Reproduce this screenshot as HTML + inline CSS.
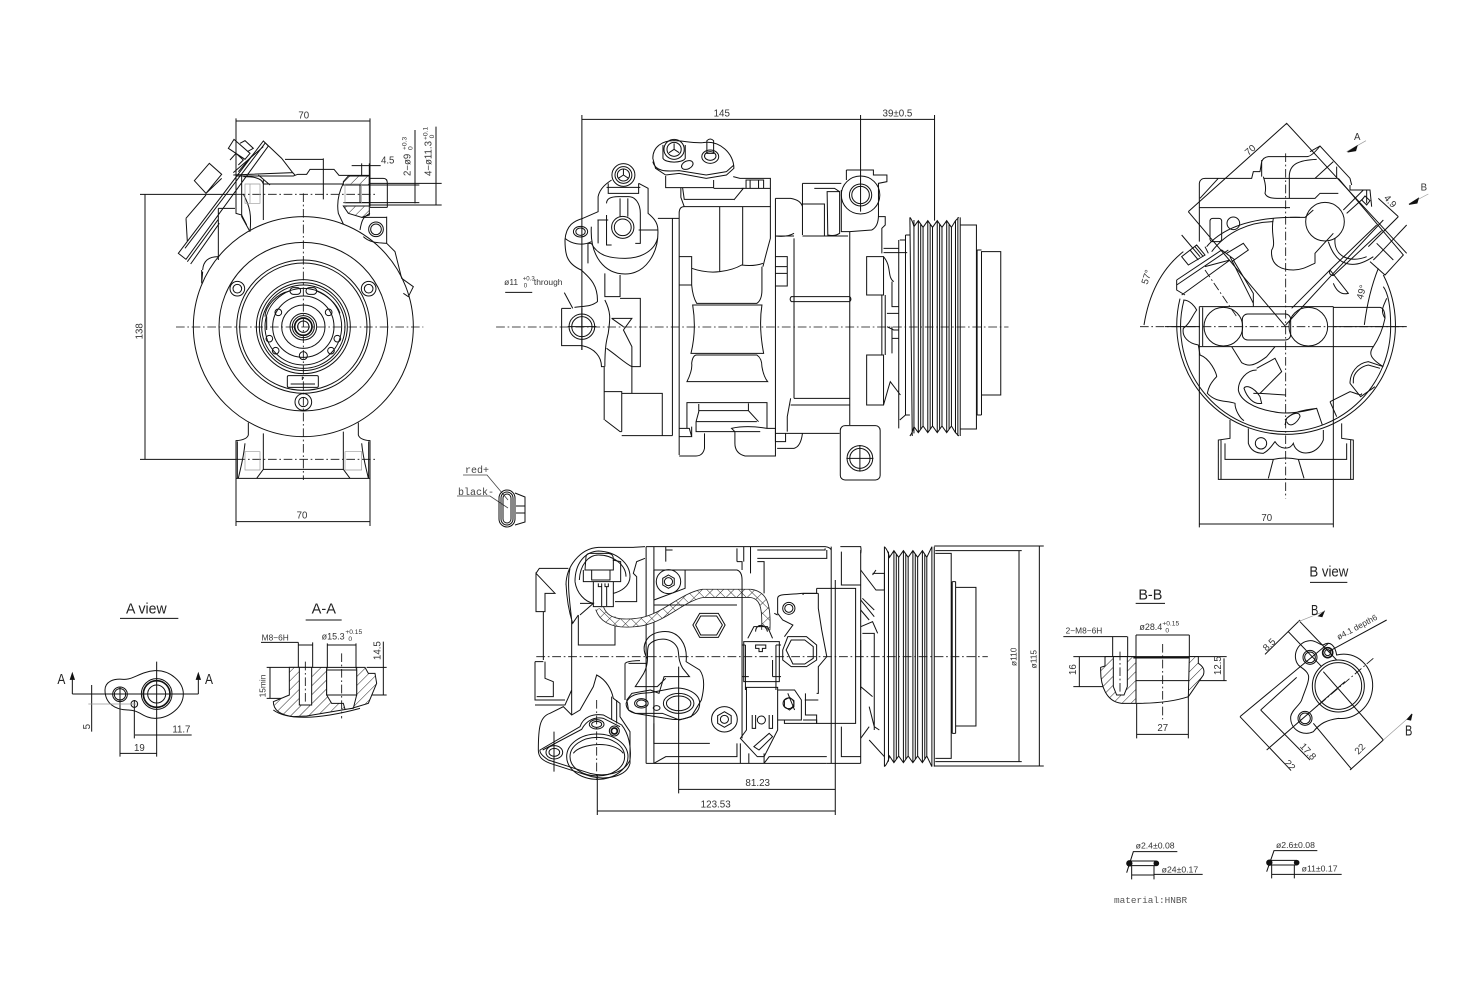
<!DOCTYPE html>
<html><head><meta charset="utf-8"><style>
html,body{margin:0;padding:0;background:#fff;width:1481px;height:1000px;overflow:hidden}
svg{display:block}
g.z path,g.z circle,g.z ellipse,g.z rect{fill:none;stroke:#111;stroke-width:3}
g.z .c{stroke-dasharray:26 8 5 8;stroke-width:2.6}
g.z .g{stroke:#999;stroke-width:2}
g.z .h{fill:url(#h)}
g.z .k{fill:#111}
g.z .w{stroke-width:5}
text{font-family:"Liberation Sans",sans-serif;fill:#333;font-size:29px;stroke:none}
text.s{font-size:20px}
text.ti{font-size:44px;fill:#222}
</style></head><body>
<svg width="1481" height="1000" viewBox="0 0 1481 1000" xmlns="http://www.w3.org/2000/svg">
<defs>
<pattern id="h" patternUnits="userSpaceOnUse" width="19" height="19" patternTransform="rotate(-45)"><rect width="19" height="19" fill="#fff"/><line x1="0" y1="0" x2="19" y2="0" stroke="#222" stroke-width="3"/></pattern>
<pattern id="x" patternUnits="userSpaceOnUse" width="22" height="22" patternTransform="rotate(45)"><rect width="22" height="22" fill="#fff"/><path d="M0,0H22M0,0V22" stroke="#333" stroke-width="3" fill="none"/></pattern>
</defs>

<!-- VIEW 1 -->
<g class="z" transform="translate(130 100) scale(.33333)">
<path d="M318,55V235M720,55V320M318,63H720"/><text x="505" y="55">70</text>
<path d="M318,1135V1278M720,1135V1278M318,1265H720"/><text x="500" y="1256">70</text>
<path d="M30,283H320M30,1078H320M45,283V1078"/><path class="c" d="M320,283H740M320,1078H740"/>
<text transform="translate(37,718) rotate(-90)">138</text>
<path d="M665,197H752M695,190V230M718,190V230M690,255H868M690,308H868M855,90V310M720,250H935M720,315H935M918,80V315"/>
<text x="753" y="190">4.5</text>
<text transform="translate(841,228) rotate(-90)">2−ø9</text><text class="s" transform="translate(830,150) rotate(-90)">+0.3</text><text class="s" transform="translate(848,150) rotate(-90)">0</text>
<text transform="translate(905,228) rotate(-90)">4−ø11.3</text><text class="s" transform="translate(892,120) rotate(-90)">+0.1</text><text class="s" transform="translate(912,115) rotate(-90)">0</text>
<circle cx="520" cy="680" r="330"/><circle cx="520" cy="680" r="253"/><circle cx="520" cy="680" r="200"/><circle cx="520" cy="680" r="191"/><circle cx="520" cy="680" r="141"/><circle cx="520" cy="680" r="132"/><circle cx="520" cy="680" r="125"/><circle cx="520" cy="680" r="115"/><circle cx="520" cy="680" r="92"/><circle cx="520" cy="680" r="65"/><circle cx="520" cy="680" r="40"/><circle cx="520" cy="680" r="33"/><circle cx="520" cy="680" r="26" class="w"/><circle cx="520" cy="680" r="17"/>
<circle cx="322" cy="566" r="22"/><circle cx="322" cy="566" r="13"/><circle cx="716" cy="566" r="22"/><circle cx="716" cy="566" r="13"/><circle cx="520" cy="906" r="25"/><circle cx="520" cy="906" r="14"/>
<circle cx="445" cy="637" r="10"/><circle cx="596" cy="637" r="10"/><circle cx="418" cy="716" r="10"/><circle cx="622" cy="716" r="10"/><circle cx="437" cy="752" r="10"/><circle cx="603" cy="752" r="10"/><circle cx="520" cy="767" r="12"/>
<rect x="480" y="563" width="32" height="20" rx="10"/><rect x="528" y="563" width="32" height="20" rx="10"/>
<path d="M405,650C405,620 440,580 480,573M630,640C620,610 590,585 560,573M410,690V650"/>
<rect x="472" y="827" width="93" height="35" rx="4"/><path d="M482,852H555M517,830V840"/>
<path class="c" d="M138,681H880M520,280V1140"/>
<!-- housing -->
<path d="M318,228H490L503,223H530L540,208H612L627,226H720M400,252H640M580,175V298M465,178H580M400,240V360M340,230C360,230 395,230 400,252M640,250C625,280 620,310 625,340L640,372M340,282C360,320 365,345 360,395M318,228V340L335,345L350,375"/>
<path class="h" d="M640,245L655,228H718V255H640ZM640,318H718V345L695,352L655,340Z"/>
<path d="M718,228V320M690,255V310M640,308H720M720,235H760Q772,235 772,250V322M720,322H772"/>
<circle cx="738" cy="388" r="22"/><circle cx="738" cy="388" r="16"/>
<path d="M695,352H770M690,390C695,360 700,350 720,340M770,350V430L795,455L815,535L850,560L835,590L820,580M700,410C720,430 750,428 770,430"/>
<!-- left connector -->
<path d="M145,460L400,123L415,138L168,478ZM165,445L405,130M172,485L265,358M182,492L268,370M193,242L238,190L275,223L228,280ZM228,280L275,235M168,355L228,285M168,355L172,425M310,225L488,218L455,175L400,123M310,218L400,140M265,325V480M265,325H315M335,225V350L360,395"/>
<path d="M295,145L312,118L360,160L345,178ZM330,130L345,122L370,145L352,155M300,180L318,160L340,180L325,195M325,215L368,165"/>
<path d="M488,218L495,225M385,225L420,255M218,510C220,480 240,470 265,470M215,510V550L218,515"/>
<path class="g" d="M345,252H390V310H345ZM360,252V310M645,252H695V310H645Z"/>
<!-- feet -->
<path d="M355,968V1005Q350,1020 318,1022V1135H720V1022Q690,1020 685,1005V968M400,1000V1110M640,995V1110M345,1030C340,1080 330,1110 325,1135M695,1030C700,1080 710,1110 715,1135M380,1135L400,1108H640L660,1135M322,1024V1135M716,1024V1135"/>
<path class="g" d="M345,1055H390V1110H345ZM645,1055H695V1110H645Z"/>
</g>

<!-- VIEW 2 -->
<g class="z" transform="translate(490 100) scale(.3378 .33333)">
<path d="M272,45V750M1097,45V335M1316,45V362M272,58H1316"/><text x="662" y="49">145</text><text x="1162" y="49">39±0.5</text>
<path d="M45,577H125M220,578L245,625"/><text x="42" y="555" style="font-size:25px">ø11</text><text class="s" x="97" y="542" style="font-size:18px">+0.3</text><text class="s" x="100" y="562" style="font-size:18px">0</text><text x="130" y="555" style="font-size:25px">through</text>
<path d="M482,175C482,140 510,122 545,122C570,122 600,130 630,128C680,120 722,160 722,205L700,225L640,235L560,220L520,225L490,205ZM482,185C490,215 520,215 560,212L640,225L700,215L722,195"/>
<path d="M512,135V175C520,190 570,190 578,175V135"/><circle cx="545" cy="148" r="30"/><circle cx="545" cy="148" r="21"/><path d="M545,148V130M545,148L530,158M545,148L560,158"/>
<ellipse cx="584" cy="195" rx="18" ry="12" transform="rotate(-25 584 195)"/>
<path d="M642,122Q652,112 662,122V160H642Z"/><ellipse cx="652" cy="170" rx="25" ry="20"/><ellipse cx="652" cy="168" rx="17" ry="13"/>
<path d="M520,228V263H662V240M662,265H750L722,300M570,262L575,298H722M565,262V292L575,320M720,230L740,235H830V320M725,265L750,265"/>
<path d="M758,240H810V265H758ZM770,240V265M795,240V265M745,265H830"/>
<!-- body -->
<path d="M560,340Q560,320 575,320H830V415Q815,470 808,500M540,355V1007M560,335V1065M497,355H560M680,320V515M748,320V495M560,470H597V555M597,505Q640,520 680,515Q720,510 745,495Q780,500 808,490M560,555H597Q600,590 612,610H790Q805,600 805,570V500"/>
<path d="M600,615H805Q795,680 810,760H595Q612,690 600,615ZM612,765H790Q805,775 805,800Q810,830 822,845H583Q600,810 597,790Q600,765 612,765Z"/>
<path d="M583,985V908H820V985M618,912V935L610,965V995H800M618,932H765L795,965M765,910V932M610,965H790M560,985H590L597,1010H560M597,980V1010M635,1000V1045Q630,1068 610,1068H560M715,985Q760,975 820,985H845V1068H755Q725,1060 725,1030V995ZM845,1000H875M845,1025H875V1000M875,1000H1035M850,1045H900Q920,1040 925,1000"/>
<path d="M845,295H890Q920,300 925,320M845,295V1025M925,250V405M925,250H1040M960,265H1020L1035,275M925,312H990V408M925,408H1060M998,275H1035V400Q1020,410 1000,405ZM900,415V895M845,408H900M845,470H880V558H845M845,500H880M845,520H880M1065,395V975M892,590H1065Q1072,597 1065,605H892Q885,597 892,590ZM900,895H1065M890,915H1065M890,895L880,950V995M845,408Q880,412 900,400"/>
<path d="M1055,210H1135V225H1175V245L1150,250V345Q1150,380 1130,390L1065,395M1055,210V240M1040,270V395H1065"/>
<circle cx="1097" cy="285" r="57"/><circle cx="1097" cy="285" r="33"/><circle cx="1097" cy="285" r="26"/>
<rect x="1037" y="977" width="118" height="163" rx="14"/><circle cx="1095" cy="1075" r="38"/><circle cx="1095" cy="1075" r="30"/><path d="M1095,1035V1115M1055,1075H1135"/>
<path d="M1150,350H1170V375L1160,385V460M1165,445H1210M1165,458H1235M1115,470H1165V585H1115ZM1115,765H1165V915H1115ZM1160,585V765M1170,585V765M1190,545V620H1210M1190,680V760M1210,420V985M1165,470C1190,500 1175,530 1195,545M1165,915C1175,880 1180,860 1185,845L1215,885M1175,640H1210M1175,680L1195,690H1210M1190,715H1210"/>
<!-- pulley -->
<path d="M1243,352L1250,1008M1255,360V1000M1243,352Q1250,360 1255,380L1268,362L1282,382L1296,362L1310,382L1324,362L1338,382L1352,362L1366,382L1378,362L1388,352M1243,1008Q1250,1000 1255,980L1268,998L1282,978L1296,998L1310,978L1324,998L1338,978L1352,998L1366,978L1378,998L1388,1008M1268,362V998M1275,372V988M1282,382V978M1296,362V998M1303,372V988M1310,382V978M1324,362V998M1331,372V988M1338,382V978M1352,362V998M1359,372V988M1366,382V978M1378,362V998M1392,352V1008M1385,352V1008M1230,405V945H1243M1230,405H1243M1213,420H1230M1213,960L1230,945"/>
<path d="M1392,375H1440V987H1392M1442,450V945M1455,455H1512V885H1455ZM1455,455V945M1442,450H1455M1442,945H1455M1440,760V880"/>
<!-- left -->
<path d="M212,625V737H272M212,625H240"/><circle cx="272" cy="680" r="38"/><circle cx="272" cy="680" r="30"/>
<path d="M272,625V750M230,680H315M222,420C225,375 250,362 275,355L320,335V290C325,265 345,250 360,240M222,420C222,460 225,490 270,510C290,530 320,550 318,605C300,620 280,618 250,622"/>
<ellipse cx="268" cy="395" rx="21" ry="16"/><ellipse cx="268" cy="395" rx="14" ry="11"/>
<path d="M222,415C240,430 270,440 300,425M300,430H290V490"/>
<circle cx="395" cy="225" r="34"/><circle cx="395" cy="225" r="25"/><circle cx="395" cy="225" r="18"/><path d="M395,225V208M395,225L380,235M395,225L410,235M350,250V280H440V250M345,262H445"/>
<ellipse cx="393" cy="382" rx="33" ry="33"/><ellipse cx="393" cy="382" rx="25" ry="25"/>
<path d="M300,380C295,470 340,522 400,522C460,522 500,460 497,390C497,365 480,350 468,340V265L440,250M300,430C320,470 360,475 400,475C450,475 490,450 497,410M345,345V435H360M345,310C345,295 360,290 380,290H410C430,290 445,310 445,340V430H430M385,295V350M408,295V350M320,360V430M318,360H350M440,390H497"/>
<path d="M340,520V590H385V525M385,595H445V800H420V880M340,600C360,640 355,660 350,700C345,720 340,740 340,800M360,655H420L395,690L420,740V800M360,655L395,680M345,745C380,770 400,790 420,800M272,737C310,745 330,770 330,800H338V960M338,875H390V995M390,880H510V1007H390M340,960L385,995H390M510,1007H540"/>
<path class="c" d="M18,681H1535"/>
</g>

<!-- VIEW 3 -->
<g class="z" transform="translate(1120 110) scale(.33333)">
<path d="M238,590V1252M640,590V1252M238,1242H640"/><text x="424" y="1233">70</text>
<path d="M205,305L500,40L860,430M205,305L497,650M497,645L640,490L790,330M775,265L835,320M860,345L780,430M835,320L745,410"/>
<text transform="translate(385,138) rotate(-42)">70</text><text transform="translate(790,265) rotate(48)">4.9</text>
<path d="M72,645Q95,500 190,425M185,375L240,440M733,645Q745,550 775,475"/>
<text transform="translate(82,525) rotate(-72)">57°</text><text transform="translate(728,570) rotate(-75)">49°</text>
<!-- arrows -->
<path class="g" d="M680,125L738,92M868,282L925,252"/><path class="k" d="M683,126L711,108L707,122ZM867,283L895,265L891,279Z"/>
<text x="702" y="90">A</text><text x="902" y="242">B</text>
<!-- housing -->
<path d="M238,293V220Q240,205 255,205H395L400,185H420L425,155Q430,142 445,140H560Q575,140 600,108L690,205L695,225M238,293H510M238,293V395M430,200Q440,230 435,250C440,265 460,265 480,265H585L600,250H655M425,150V200M508,205V265M430,205H650M508,205C505,160 540,150 590,148M570,125L600,108M585,205L640,155M650,170V205M295,205L240,265M655,205L850,435L795,495L750,455M690,225V240H740V280M690,240H750L755,290"/>
<circle cx="615" cy="335" r="58"/>
<path d="M510,322L555,322L580,300M670,300L730,240M680,310L730,265"/>
<path d="M725,270L735,258L750,272L740,285ZM640,370L585,430V460M625,395C650,470 700,480 760,440M645,385C640,440 690,460 740,440M630,480L770,345M640,497L785,362M630,480Q625,495 640,497M515,595L630,480L685,550C665,555 650,545 640,520M770,400L820,450M780,430L760,450"/>
<path d="M460,325C450,370 470,400 455,420C450,470 490,480 520,480C550,480 570,465 585,460"/>
<path d="M260,410C310,350 400,320 540,322M275,425C320,365 390,335 460,335"/>
<rect x="270" y="325" width="35" height="70" rx="8"/><circle cx="340" cy="340" r="19"/>
<!-- left connector -->
<path d="M170,510L305,420L345,450M170,525L325,420M185,555L330,450M170,510V540L195,555M320,430L370,400L385,420L335,455M185,440L230,405L255,435L205,465ZM210,420L235,450M225,410L250,440M255,410L265,430M330,440L400,580M340,450L400,550V590M255,470L330,450"/>
<path class="c" d="M255,480L350,620"/>
<!-- circle -->
<path d="M180,566A328,328 0 1 0 790,495M192,570A315,315 0 0 0 497,965A315,315 0 0 0 812,650Q812,560 790,530M800,565C790,590 780,600 795,625"/>
<path d="M190,570C210,570 225,590 230,600C215,620 210,640 190,655C185,680 205,700 235,705L240,735C270,745 290,790 290,800C270,820 265,835 262,850C290,880 320,870 345,880C345,900 360,925 372,932"/>
<path d="M238,590H640M238,710H640M248,592V708"/>
<circle cx="310" cy="650" r="58"/><circle cx="565" cy="650" r="58"/><rect x="367" y="612" width="145" height="78" rx="16"/>
<path d="M640,592H780Q795,595 795,625C790,650 780,680 760,710H640M335,710L365,758C385,770 400,770 440,740L465,710M410,775L465,745L485,785L420,850L400,850"/>
<path d="M410,780C380,780 355,810 355,840C360,870 400,895 460,905C500,915 550,905 590,895M372,835C375,825 400,828 420,860L425,880C400,885 380,860 372,835ZM420,850L497,855M495,945L500,925C520,905 550,900 590,895L607,945M500,935C510,955 530,940 540,920C540,905 520,905 495,930"/>
<path d="M630,875L650,920M630,875L690,845C710,850 725,860 725,850M690,820C690,790 710,760 745,755L790,770M700,820V810C700,790 720,770 745,765L780,775M690,820L722,860L765,830M760,710C745,730 750,745 790,770"/>
<!-- feet -->
<path d="M330,930V985L295,990V1108H700V990L665,985V940M385,955V1000Q395,1030 430,1030C450,1020 460,1000 465,995C480,1020 510,1020 520,1000C530,1040 590,1040 610,990V960M315,1000V1048H460L445,1105M535,1048H680V1000M460,1048Q495,1040 535,1048L552,1105M303,990V1108M692,990V1108"/>
<circle cx="423" cy="1000" r="17"/>
<path class="c" d="M60,650H860M497,130V1165"/>
<path d="M135,650H240M640,650H860"/>
</g>

<!-- connector -->
<g class="z" transform="translate(450 455)">
<path d="M13,20H37L58,45M7,41H40L58,53" style="stroke-width:.8;stroke:#444"/>
<rect x="49" y="35" width="16" height="37" rx="8" style="stroke-width:1"/><rect x="51" y="37" width="12" height="33" rx="6" style="stroke-width:1"/><rect x="53" y="39" width="8" height="29" rx="4" style="stroke-width:1"/>
<path d="M65,38L75,42V67L65,70M66,51H75M66,58H75" style="stroke-width:1"/>
<text x="15" y="18" style="font-family:'Liberation Mono',monospace;font-size:10px;fill:#444">red+</text>
<text x="8" y="40" style="font-family:'Liberation Mono',monospace;font-size:10px;fill:#444">black-</text>
</g>

<!-- bottom view: left end -->
<g class="z" transform="translate(530 540) scale(.33333)">
<path d="M18,100L75,160H45V215H18ZM18,100L28,85H115M40,215V360M15,365H40M15,365V480H105M45,365V415L70,425V470H20M15,495H105L125,450M125,240V525M145,225V315H255V230"/>
<path d="M108,135C108,80 150,25 205,22H310L345,20M108,130C110,180 120,225 128,250L145,225M120,85C110,130 120,190 125,240M150,225L190,190H150"/>
<path d="M135,125C135,70 165,35 205,33C260,35 300,70 300,110C300,140 270,155 250,160M135,125C140,160 165,185 190,190M148,120C150,75 175,45 205,45C250,45 288,75 288,110"/>
<path d="M168,50Q170,40 180,40H235Q250,42 250,55V90H165ZM160,90V125H272V65L248,60M185,90V120H240V90M190,125V200H250V125M205,130V140H215V130M225,130V140H235V130M215,140V198M230,140V198"/>
<path d="M345,55L320,65L310,100L320,110V185H255M285,370Q295,362 330,362M285,370V480"/>
<path d="M25,630C25,560 30,530 60,520L100,500L125,525L150,510L190,440L200,405C230,420 245,450 250,475L270,490V530L300,575V670C290,710 230,720 185,710L60,670C35,660 25,650 25,630Z"/>
<path d="M30,630L150,560C160,530 190,520 220,525L275,555C295,580 305,620 300,660C280,705 220,710 180,700L55,660C40,650 28,640 30,630ZM38,630L155,568C170,540 195,530 220,535L270,560"/>
<ellipse cx="200" cy="553" rx="22" ry="14"/><ellipse cx="200" cy="553" rx="15" ry="9"/>
<circle cx="253" cy="573" r="15"/><circle cx="253" cy="573" r="9" class="w"/>
<ellipse cx="73" cy="637" rx="25" ry="20"/><ellipse cx="73" cy="637" rx="16" ry="12"/>
<ellipse cx="202" cy="650" rx="92" ry="68"/><ellipse cx="202" cy="650" rx="82" ry="58"/>
<path d="M130,640C150,610 250,600 280,640M245,470V540M260,480V550M72,575V695"/>
<path class="c" d="M200,480V720"/>
</g>

<!-- VIEW BOTTOM -->
<g class="z" transform="translate(520 530) scale(.339 .33333)">
<path d="M468,410V790M930,150V855M468,778H930M228,735V855M228,843H930"/><text x="665" y="768">81.23</text><text x="533" y="833">123.53</text>
<path d="M1225,62H1480M1225,695H1480M1472,62V695M1225,48H1545M1225,708H1545M1532,48V708"/>
<text transform="translate(1464,408) rotate(-90)" style="font-size:25px">ø110</text><text transform="translate(1524,415) rotate(-90)" style="font-size:25px">ø115</text>
<!-- pulley -->
<path d="M1075,50V710M1087,65V695M1075,50Q1085,60 1090,82L1103,62L1117,82L1131,62L1145,82L1159,62L1173,82L1187,62L1200,82L1215,50M1075,710Q1085,700 1090,678L1103,698L1117,678L1131,698L1145,678L1159,698L1173,678L1187,698L1200,678L1215,710M1103,62V698M1110,72V688M1117,82V678M1131,62V698M1138,72V688M1145,82V678M1159,62V698M1166,72V688M1173,82V678M1187,62V698M1194,72V688M1200,82V678M1215,50V710M1222,50V710"/>
<path d="M1222,48H1530M1222,708H1530M1225,70H1272V685H1225M1275,155V610M1285,172H1345V588H1285ZM1285,155V610M1275,155H1285M1275,610H1285"/>
<!-- right body -->
<path d="M1005,120L1050,180L1075,180M1040,130L1075,130V180M1050,120L1040,135M1005,210L1045,260M1010,205L1045,240M1005,240L1030,270M1005,290L1040,275L1055,310M1010,310H1045V520M1005,330V480M1005,470L1040,500M1030,530L1045,590L1060,600M1005,625L1030,590M1030,630L1075,680M1045,520V600"/>
<path d="M875,175H990V580H875V555H842V490M875,175V190H835V195M1005,60V700"/>
<path d="M918,50V700M948,65V165H1005M948,590V680H1005M945,50H1005Q1007,60 1005,70M905,700H1005"/>
<path d="M372,50H900Q915,52 918,60M372,700H905M372,50V700M395,50V700M430,50V95M430,60L450,60M640,55V95M660,50V95M680,50V130M700,60H900V55M700,85H905V60M700,95H720V190M640,95H655V120"/>
<path d="M640,640V680H430L395,700M650,640V700M675,670V700M720,670V700M905,680H735L720,700"/>
<!-- braid -->
<path d="M235,235C250,280 300,285 360,275C430,260 480,200 540,190H680C720,195 728,230 725,300" style="stroke-width:27;stroke:#222"/>
<path d="M235,235C250,280 300,285 360,275C430,260 480,200 540,190H680C720,195 728,230 725,300" style="stroke-width:22;stroke:url(#x)"/>
<!-- mid plate -->
<path d="M395,120H640Q655,125 655,150V625M487,120V175L395,210M640,225H395M395,120V205M760,205C760,190 790,195 830,190H880M760,205V250L775,270L805,285L780,320M880,190V235L890,300L905,380L880,410V490H875M760,255L750,250"/>
<circle cx="438" cy="155" r="36"/><path d="M438,135L455,145V165L438,175L421,165V145Z"/><circle cx="438" cy="155" r="12"/>
<path d="M510,285L530,250H585L605,285L585,322H530Z"/><path d="M518,285L533,258H580L597,285L580,315H533Z"/>
<circle cx="793" cy="235" r="18"/><circle cx="793" cy="235" r="12"/>
<path d="M775,360L790,320H845L875,345V390L845,410H800L775,390ZM785,360L800,330H840L865,350V385L840,402H805Z"/>
<circle cx="603" cy="568" r="38"/><path d="M603,545L623,557V580L603,592L583,580V557Z"/><circle cx="603" cy="568" r="12"/>
<path d="M395,580V640H560"/>
<!-- clamp -->
<path d="M375,385C355,350 370,310 420,305C470,300 495,345 490,395L530,420C545,440 545,470 535,510L505,560L470,570L420,550L340,550L320,540L315,510L330,490L385,480L410,490L425,440H500L480,415C465,390 470,370 465,355C450,320 400,320 380,345C370,365 385,390 365,430L340,470L405,470L430,445M320,400H375"/>
<path d="M313,520C320,495 345,490 385,488L450,475C490,470 530,490 530,520C530,555 490,572 450,568L340,550C320,545 313,535 313,520Z"/>
<ellipse cx="358" cy="520" rx="20" ry="14"/><ellipse cx="358" cy="520" rx="14" ry="10"/><ellipse cx="403" cy="534" rx="10" ry="7"/>
<ellipse cx="468" cy="520" rx="45" ry="30"/><ellipse cx="468" cy="520" rx="36" ry="22"/>
<!-- connector -->
<path d="M660,335H765V455H660ZM655,345H665M755,345H770M655,440H675M745,440H770M745,390V440M665,345V480M755,345V480M695,345H725V355H715V365H705V355H695ZM672,325L690,290H730L745,325M695,305C695,280 725,280 730,305M668,472H760V600L720,680H700L650,625L668,600ZM685,555V595H695V555M735,555V595H745V555"/>
<circle cx="712" cy="570" r="12"/><path d="M690,650L735,610L745,620L705,660Z"/>
<path d="M760,480H810L830,510V570H760M790,490L810,540M840,510H880M835,570H875V580H780V570"/>
<circle cx="792" cy="520" r="16"/><path d="M780,510L795,502L808,512V530L795,540L780,530Z"/>
<path class="c" d="M48,380H1380"/>
</g>

<!-- A view / A-A -->
<g class="z" transform="translate(40 590) scale(.33333)">
<text class="ti" x="258" y="70" textLength="122" lengthAdjust="spacingAndGlyphs">A view</text><path d="M240,85H415"/>
<text class="ti" x="815" y="70" textLength="73" lengthAdjust="spacingAndGlyphs">A-A</text><path d="M797,90H905"/>
<path d="M97,312H475M97,312V258M475,312V258"/><path class="k" d="M97,250L91,268H103ZM475,250L469,268H481Z"/>
<text class="ti" x="52" y="282" textLength="24" lengthAdjust="spacingAndGlyphs">A</text><text class="ti" x="495" y="282" textLength="24" lengthAdjust="spacingAndGlyphs">A</text>
<path d="M195,300C195,275 220,265 250,268C280,270 300,245 345,242C390,240 430,275 430,312C430,350 390,385 345,385C310,385 300,360 265,360C225,360 195,340 195,300Z"/>
<circle cx="240" cy="313" r="22"/><circle cx="240" cy="313" r="17"/><circle cx="350" cy="312" r="46"/><circle cx="350" cy="312" r="40" class="w"/><circle cx="350" cy="312" r="27"/><circle cx="283" cy="342" r="10"/>
<path d="M350,215V500M240,290V500M283,330V445M155,285V425M285,435H455M240,490H350"/><path class="g" d="M145,342H290"/>
<text transform="translate(150,418) rotate(-90)">5</text><text x="397" y="428">11.7</text><text x="282" y="483">19</text>
<path d="M663,157H775M775,157V235M818,157V235M775,165H818M862,165H948M862,160V235M948,160V235M980,232H1040M1030,155V315M870,315H1040M680,232H780M690,232V325M680,325H780"/>
<text x="665" y="152" style="font-size:25px">M8−6H</text><text x="845" y="148" style="font-size:27px">ø15.3</text><text class="s" x="916" y="132">+0.15</text><text class="s" x="925" y="153">0</text>
<text transform="translate(1022,210) rotate(-90)">14.5</text><text transform="translate(676,322) rotate(-90)" style="font-size:25px">15min</text>
<path class="h" d="M748,232H860V315L875,340H910L915,358L940,355L950,315V232H975L985,250H1005L1010,280L985,340L935,355L800,378L760,380C720,375 700,360 700,335L748,315Z"/>
<path d="M778,232V345H815V232Z" style="fill:#fff"/><path d="M860,240H950V315H860Z" style="fill:#fff"/>
<path d="M700,360C740,390 830,390 960,355M860,232H950"/>
<path class="c" d="M796,215V340M905,190V385"/>
</g>

<!-- B-B / B view / rings -->
<g class="z" transform="translate(1050 560) scale(.33333)">
<text class="ti" x="265" y="118" textLength="72" lengthAdjust="spacingAndGlyphs">B-B</text><path d="M257,130H345"/>
<text class="ti" x="778" y="50" textLength="117" lengthAdjust="spacingAndGlyphs">B view</text><path d="M780,67H892"/>
<text x="47" y="220" style="font-size:25px">2−M8−6H</text><path d="M40,230H232M188,230V380M233,230V295"/>
<text x="268" y="210" style="font-size:27px">ø28.4</text><text class="s" x="337" y="197">+0.15</text><text class="s" x="346" y="218">0</text>
<path d="M258,225H418M258,225V295M418,225V295M70,290H530M88,290V380M70,380H190M420,362H530M522,295V362M260,430V535M415,410V535M260,523H415"/>
<text transform="translate(78,345) rotate(-90)">16</text><text transform="translate(513,345) rotate(-90)">12.5</text><text x="322" y="513">27</text>
<path class="h" d="M165,290H258V430H215C170,425 150,380 152,322L165,318ZM418,290H445V310C460,320 465,330 460,345L415,410Z"/>
<path d="M190,290V380L200,405H222L232,380V290Z" style="fill:#fff"/>
<path class="w" d="M250,293H418"/><path d="M258,362H418M260,430C320,430 370,425 415,410"/>
<path class="c" d="M338,252V478M210,275V405"/>
<!-- B view -->
<path d="M745,315C725,290 740,245 780,242C800,240 815,262 825,252C840,245 855,255 860,285C920,270 970,320 968,380C965,440 915,480 865,475C830,480 810,490 790,515C760,530 720,510 722,470C725,450 750,435 755,420C765,390 780,360 775,345C770,330 755,325 745,315Z"/>
<circle cx="865" cy="378" r="78"/><circle cx="865" cy="378" r="70"/><circle cx="780" cy="292" r="21"/><circle cx="780" cy="292" r="16"/><circle cx="765" cy="475" r="21"/><circle cx="765" cy="475" r="16"/><circle cx="833" cy="278" r="15" class="w"/><circle cx="833" cy="278" r="9"/>
<path d="M570,470L835,250M632,450L740,352M650,570L885,365M570,470L722,630M632,450L780,600M900,630L1000,540M820,335L1000,540M790,490L905,628M645,283L750,180M715,215L815,320M750,185L860,300M835,275L1010,180"/>
<path class="c" d="M970,295L800,440"/><path class="g" d="M745,185L820,155M1000,540L1085,465"/><path class="k" d="M806,168L822,155L816,170ZM1072,478L1086,462L1082,480Z"/>
<text class="ti" x="783" y="165" textLength="22" lengthAdjust="spacingAndGlyphs">B</text><text class="ti" x="1065" y="527" textLength="22" lengthAdjust="spacingAndGlyphs">B</text>
<text transform="translate(650,275) rotate(-45)">8.5</text><text transform="translate(702,610) rotate(48)">22</text><text transform="translate(748,560) rotate(48)">17.8</text><text transform="translate(925,585) rotate(-45)">22</text>
<text transform="translate(866,240) rotate(-28)" style="font-size:25px">ø4.1 depth6</text>
<!-- rings -->
<path d="M238,903H319M238,917H319M230,938L250,875H382M245,917V958M312,917V958M245,945H312M312,943H458"/><circle class="k" cx="238" cy="910" r="8"/><circle class="k" cx="319" cy="910" r="7"/>
<text x="257" y="866" style="font-size:26px">ø2.4±0.08</text><text x="335" y="937" style="font-size:26px">ø24±0.17</text>
<path d="M658,901H740M658,915H740M650,935L672,872H802M665,915V955M733,915V955M665,943H733M733,943H875"/><circle class="k" cx="658" cy="908" r="8"/><circle class="k" cx="740" cy="908" r="7"/>
<text x="678" y="864" style="font-size:26px">ø2.6±0.08</text><text x="755" y="934" style="font-size:26px">ø11±0.17</text>
</g>
<text x="1114" y="903" style="font-family:'Liberation Mono',monospace;font-size:9.4px;fill:#555">material:HNBR</text>
</svg>
</body></html>
